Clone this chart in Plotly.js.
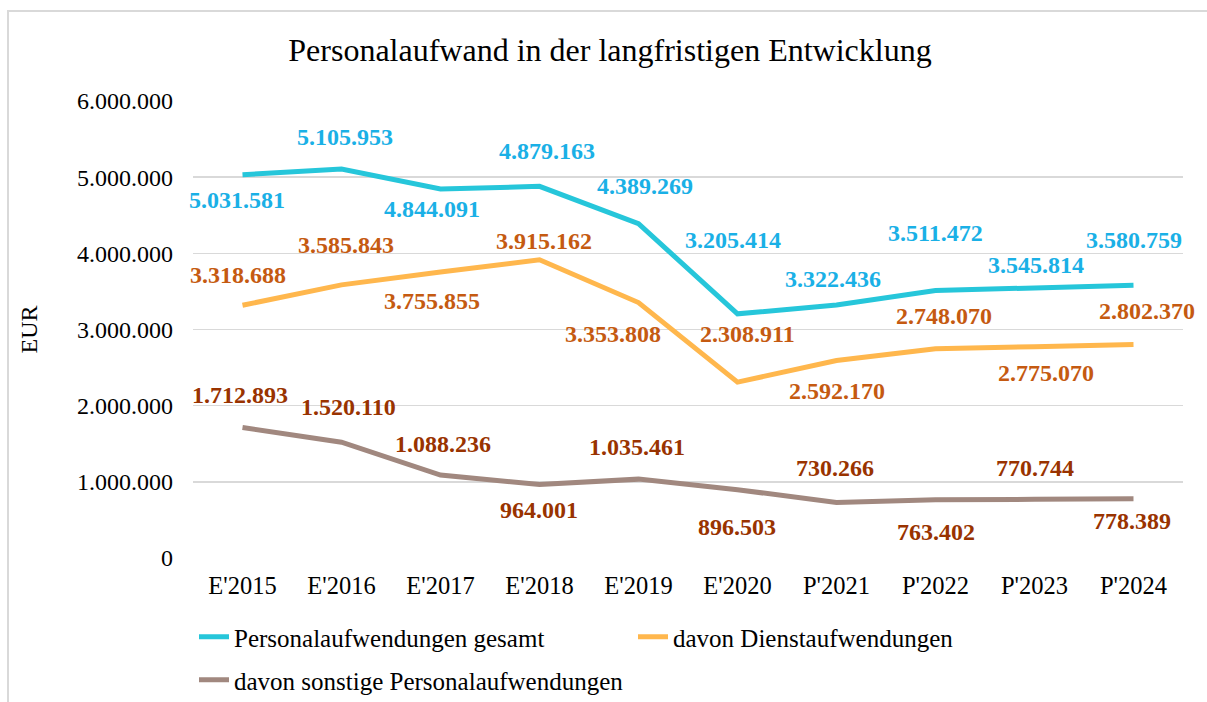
<!DOCTYPE html>
<html>
<head>
<meta charset="utf-8">
<script src="https://cdn.plot.ly/plotly-3.0.1.min.js"></script>
<style>
  html, body { margin: 0; padding: 0; background: #fff; }
  #chart { width: 1207px; height: 702px; }
  #frame { position: absolute; left: 7px; top: 10px; width: 1300px; height: 800px;
           border-top: 2px solid #d9d9d9; border-left: 2px solid #d9d9d9; pointer-events: none; }
</style>
</head>
<body>
<div id="chart"></div>
<div id="frame"></div>
<script>
// ---- data ----
const categories = ["E'2015","E'2016","E'2017","E'2018","E'2019","E'2020","P'2021","P'2022","P'2023","P'2024"];
const gesamt     = [5031581, 5105953, 4844091, 4879163, 4389269, 3205414, 3322436, 3511472, 3545814, 3580759];
const dienst     = [3318688, 3585843, 3755855, 3915162, 3353808, 2308911, 2592170, 2748070, 2775070, 2802370];
const sonstige   = [1712893, 1520110, 1088236,  964001, 1035461,  896503,  730266,  763402,  770744,  778389];
const seriesNames = ["Personalaufwendungen gesamt", "davon Dienstaufwendungen", "davon sonstige Personalaufwendungen"];
const yTicks = [0, 1000000, 2000000, 3000000, 4000000, 5000000, 6000000];

// ---- label placement (pixel offsets from each point: [dx, dy], dy positive = down) ----
const offGesamt = [[-6,25],[3,-32],[-9,20],[7,-35],[6,-38],[-5,-74],[-4,-26],[0,-58],[1,-23],[0,-45]];
const offDienst = [[-5,-30],[4,-40],[-9,29],[4,-19],[-26,31],[10,-48],[0,30],[8,-33],[11,26],[13,-34]];
const offSonst  = [[-3,-33],[7,-35],[2,-31],[-1,25],[-2,-32],[-1,37],[-2,-34],[0,32],[0,-31],[-2,22]];

const lineColors  = ["#26C6DA", "#FFB74D", "#A1887F"];
const labelColors = ["#1AB0E6", "#C55A11", "#993300"];
const FONT = "Liberation Serif, Times New Roman, serif";

function fmt(v) {
  return String(v).replace(/\B(?=(\d{3})+(?!\d))/g, ".");
}

const allSeries = [gesamt, dienst, sonstige];
const allOffsets = [offGesamt, offDienst, offSonst];
const legendIds = ["legend", "legend2", "legend3"];

const traces = allSeries.map((vals, s) => ({
  type: "scatter",
  mode: "lines",
  x: categories,
  y: vals,
  name: seriesNames[s],
  legend: legendIds[s],
  line: { color: lineColors[s], width: 5 },
  hoverinfo: "x+y"
}));

const annotations = [];
allSeries.forEach((vals, s) => {
  vals.forEach((v, i) => {
    annotations.push({
      x: categories[i], y: v, xref: "x", yref: "y",
      text: fmt(v), showarrow: false,
      xshift: allOffsets[s][i][0], yshift: -allOffsets[s][i][1],
      font: { family: FONT, size: 24, color: labelColors[s], weight: "bold" }
    });
  });
});

const legendBase = {
  orientation: "h", xref: "container", yref: "container",
  xanchor: "left", yanchor: "middle",
  font: { family: FONT, size: 25, color: "#000" },
  bgcolor: "rgba(0,0,0,0)", borderwidth: 0
};

const layout = {
  width: 1207, height: 702,
  margin: { l: 193, r: 24, t: 101, b: 144 },
  paper_bgcolor: "#fff", plot_bgcolor: "#fff",
  separators: ",.",
  title: {
    text: "Personalaufwand in der langfristigen Entwicklung",
    font: { family: FONT, size: 32, color: "#000" },
    xref: "container", yref: "container",
    x: 610 / 1207, xanchor: "center", y: 1 - 50 / 702, yanchor: "middle"
  },
  xaxis: {
    type: "category", categoryarray: categories, range: [-0.5, 9.5],
    showgrid: false, zeroline: false, showline: false, ticks: "",
    tickfont: { family: FONT, size: 24.5, color: "#000" }, ticklabelstandoff: 10
  },
  yaxis: {
    range: [0, 6000000], tickvals: yTicks, tickformat: ",.0f",
    showgrid: true, gridcolor: "#d9d9d9", gridwidth: 1.5,
    zeroline: false, showline: false, ticks: "",
    tickfont: { family: FONT, size: 24, color: "#000" }, ticklabelstandoff: 19,
    title: { text: "EUR", font: { family: FONT, size: 24, color: "#000" }, standoff: 32 }
  },
  showlegend: true,
  legend:  Object.assign({}, legendBase, { x: 194 / 1207, y: 1 - 637 / 702 }),
  legend2: Object.assign({}, legendBase, { x: 633 / 1207, y: 1 - 637 / 702 }),
  legend3: Object.assign({}, legendBase, { x: 194 / 1207, y: 1 - 680 / 702 }),
  annotations: annotations
};

Plotly.newPlot("chart", traces, layout, { displayModeBar: false, staticPlot: true });
</script>
</body>
</html>
